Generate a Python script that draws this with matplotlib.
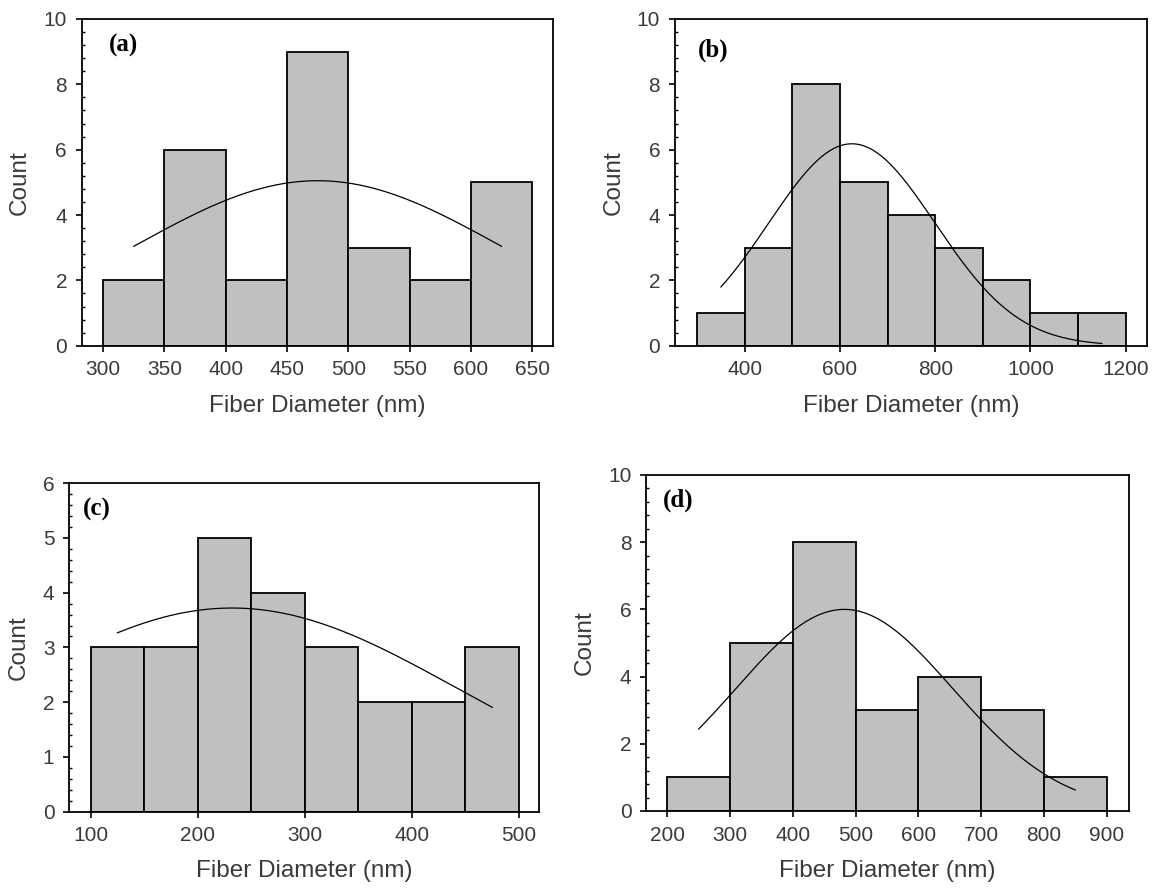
import numpy as np
import matplotlib
matplotlib.use("Agg")
import matplotlib.pyplot as plt
from matplotlib.ticker import AutoMinorLocator, MultipleLocator

# ---- histogram data (bin edges and counts) ----
edges_a = [300, 350, 400, 450, 500, 550, 600, 650]
counts_a = [2, 6, 2, 9, 3, 2, 5]

edges_b = [300, 400, 500, 600, 700, 800, 900, 1000, 1100, 1200]
counts_b = [1, 3, 8, 5, 4, 3, 2, 1, 1]

edges_c = [100, 150, 200, 250, 300, 350, 400, 450, 500]
counts_c = [3, 3, 5, 4, 3, 2, 2, 3]

edges_d = [200, 300, 400, 500, 600, 700, 800, 900]
counts_d = [1, 5, 8, 3, 4, 3, 1]

# ---- normal-fit curves: (x start, x end, mean, sigma, peak height) ----
fit_a = (325, 625, 475, 149, 5.05)
fit_b = (350, 1150, 625, 175, 6.18)
fit_c = (125, 475, 232, 210, 3.72)
fit_d = (250, 850, 482, 173, 6.00)

# ---- axis settings ----
xticks_a = [300, 350, 400, 450, 500, 550, 600, 650]
xticks_b = [400, 600, 800, 1000, 1200]
xticks_c = [100, 200, 300, 400, 500]
xticks_d = [200, 300, 400, 500, 600, 700, 800, 900]

FONT = "Liberation Sans"
TXT = "#3a3a3a"
BAR = "#c0c0c0"

fig = plt.figure(figsize=(11.54, 8.91), dpi=100)


def panel(rect, edges, counts, fit, xlim, xticks, ylim, ystep, tag, tag_xy):
    ax = fig.add_axes(rect)
    edges = np.asarray(edges, dtype=float)
    ax.bar(edges[:-1], counts, width=np.diff(edges), align="edge",
           color=BAR, edgecolor="black", linewidth=1.3, zorder=2)
    x0, x1, mu, sd, peak = fit
    xs = np.linspace(x0, x1, 300)
    ax.plot(xs, peak * np.exp(-0.5 * ((xs - mu) / sd) ** 2),
            color="black", linewidth=0.9, zorder=3)
    ax.set_xlim(*xlim)
    ax.set_ylim(*ylim)
    ax.set_xticks(xticks)
    ax.yaxis.set_major_locator(MultipleLocator(ystep))
    ax.yaxis.set_minor_locator(AutoMinorLocator(5))
    for s in ax.spines.values():
        s.set_linewidth(1.3)
        s.set_color("black")
    ax.tick_params(axis="both", which="major", direction="out", length=4.5,
                   width=1.2, labelsize=15, labelcolor=TXT, pad=6)
    ax.tick_params(axis="y", which="minor", direction="in", length=2,
                   width=1.0)
    for lab in ax.get_xticklabels() + ax.get_yticklabels():
        lab.set_fontfamily(FONT)
    ax.set_xlabel("Fiber Diameter (nm)", fontsize=17.5, fontfamily=FONT,
                  color=TXT, labelpad=11)
    ax.set_ylabel("Count", fontsize=17.5, fontfamily=FONT, color=TXT,
                  labelpad=9)
    ax.text(tag_xy[0], tag_xy[1], tag, transform=ax.transAxes,
            fontsize=18, fontweight="bold", fontfamily="Liberation Serif",
            ha="left", va="center", color="black")
    return ax


panel([0.0708, 0.612, 0.4084, 0.3667], edges_a, counts_a, fit_a,
      (282.5, 667), xticks_a, (0, 10), 2, "(a)", (0.058, 0.92))
panel([0.5847, 0.612, 0.4093, 0.3667], edges_b, counts_b, fit_b,
      (253, 1245), xticks_b, (0, 10), 2, "(b)", (0.049, 0.905))
panel([0.0598, 0.0892, 0.4073, 0.3684], edges_c, counts_c, fit_c,
      (79.7, 518.7), xticks_c, (0, 6), 1, "(c)", (0.03, 0.919))
panel([0.5598, 0.0898, 0.4185, 0.3771], edges_d, counts_d, fit_d,
      (166, 935.5), xticks_d, (0, 10), 2, "(d)", (0.035, 0.926))

fig.savefig("out.png", dpi=100)
